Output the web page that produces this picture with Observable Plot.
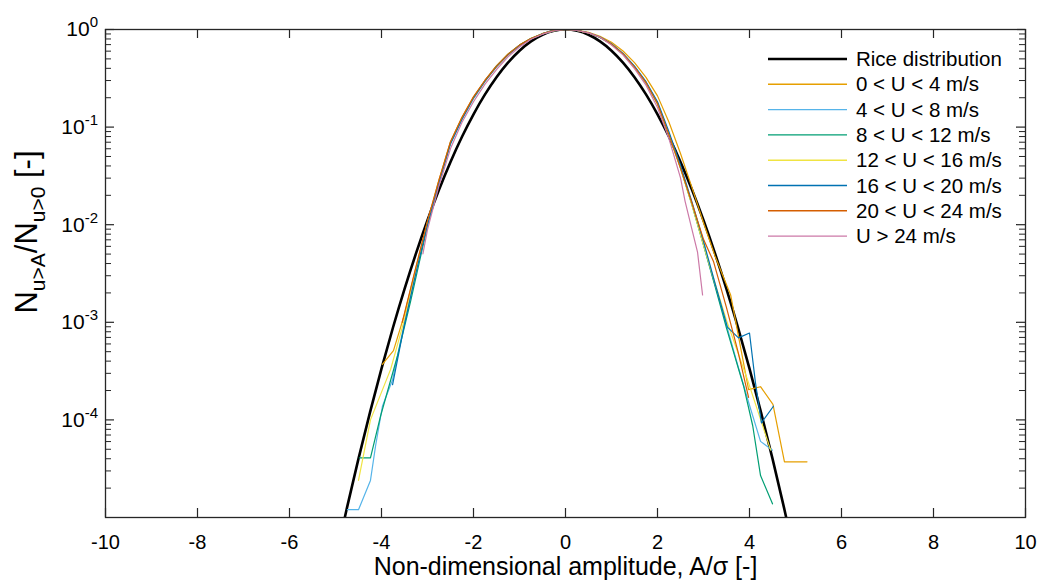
<!DOCTYPE html>
<html><head><meta charset="utf-8">
<script src="https://cdn.jsdelivr.net/npm/d3@7"></script>
<script src="https://cdn.jsdelivr.net/npm/@observablehq/plot@0.6"></script>
<style>body{margin:0;background:#fff;} svg{display:block}</style>
</head><body><div id="chart"></div>
<script>
const seriesNames = ["0 < U < 4 m/s","4 < U < 8 m/s","8 < U < 12 m/s","12 < U < 16 m/s","16 < U < 20 m/s","20 < U < 24 m/s","U > 24 m/s"];
const seriesColors = ["#E69F00","#56B4E9","#009E73","#F0E442","#0072B2","#D55E00","#CC79A7"];
const riceName = "Rice distribution";

// Rice distribution
const riceX = [-5,-4.75,-4.5,-4.25,-4,-3.75,-3.5,-3.25,-3,-2.75,-2.5,-2.25,-2,-1.75,-1.5,-1.25,-1,-0.75,-0.5,-0.25,0,0.25,0.5,0.75,1,1.25,1.5,1.75,2,2.25,2.5,2.75,3,3.25,3.5,3.75,4,4.25,4.5,4.75,5];
const riceY = [3.727e-6,1.262e-5,4.007e-5,1.196e-4,3.355e-4,8.846e-4,2.187e-3,5.082e-3,1.111e-2,2.280e-2,4.394e-2,7.956e-2,0.1353,0.2163,0.3247,0.4578,0.6065,0.7548,0.8825,0.9692,1,0.9692,0.8825,0.7548,0.6065,0.4578,0.3247,0.2163,0.1353,7.956e-2,4.394e-2,2.280e-2,1.111e-2,5.082e-3,2.187e-3,8.846e-4,3.355e-4,1.196e-4,4.007e-5,1.262e-5,3.727e-6];

// measured series: amplitude and log10 of N(u>A)/N(u>0)
const s0X = [-3.98,-3.74,-3.5,-3.25,-3.0,-2.75,-2.5,-2.25,-2.0,-1.75,-1.5,-1.25,-1.0,-0.75,-0.5,-0.25,0,0.25,0.5,0.75,1.0,1.25,1.5,1.75,2.0,2.25,2.5,2.75,3.0,3.25,3.59,3.98,4.24,4.51,4.76,5.25];
const s0Log = [-3.43,-3.29,-2.92,-2.44,-1.97,-1.54,-1.15,-0.90,-0.69,-0.52,-0.37,-0.25,-0.16,-0.09,-0.043,-0.011,0,-0.008,-0.03,-0.07,-0.13,-0.22,-0.34,-0.49,-0.68,-0.95,-1.27,-1.62,-1.98,-2.32,-2.72,-3.69,-3.66,-3.84,-4.43,-4.43];

const s1X = [-4.74,-4.5,-4.24,-4.13,-3.98,-3.76,-3.5,-3.25,-3.0,-2.75,-2.5,-2.25,-2.0,-1.75,-1.5,-1.25,-1.0,-0.75,-0.5,-0.25,0,0.25,0.5,0.75,1.0,1.25,1.5,1.75,2.0,2.25,2.5,2.75,3.0,3.25,3.5,3.75,4.0,4.24,4.5];
const s1Log = [-4.92,-4.92,-4.62,-4.27,-3.86,-3.59,-3.0,-2.47,-1.99,-1.56,-1.17,-0.92,-0.71,-0.53,-0.38,-0.26,-0.165,-0.095,-0.045,-0.012,0,-0.01,-0.035,-0.08,-0.15,-0.25,-0.38,-0.54,-0.75,-1.07,-1.41,-1.79,-2.2,-2.62,-3.03,-3.45,-3.85,-4.22,-4.31];

const s2X = [-4.48,-4.24,-4.02,-3.65,-3.37,-3.0,-2.75,-2.5,-2.25,-2.0,-1.75,-1.5,-1.25,-1.0,-0.75,-0.5,-0.25,0,0.25,0.5,0.75,1.0,1.25,1.5,1.75,2.0,2.25,2.5,2.75,3.0,3.25,3.5,3.87,4.07,4.24,4.5];
const s2Log = [-4.39,-4.39,-3.96,-3.34,-2.79,-2.01,-1.56,-1.16,-0.91,-0.70,-0.525,-0.375,-0.255,-0.16,-0.092,-0.043,-0.011,0,-0.01,-0.036,-0.082,-0.152,-0.255,-0.385,-0.55,-0.76,-1.08,-1.42,-1.80,-2.21,-2.63,-3.06,-3.65,-4.06,-4.57,-4.86];

const s3X = [-4.5,-4.24,-3.8,-3.5,-3.25,-3.0,-2.75,-2.5,-2.25,-2.0,-1.75,-1.5,-1.25,-1.0,-0.75,-0.5,-0.25,0,0.25,0.5,0.75,1.0,1.25,1.5,1.75,2.0,2.25,2.5,2.75,3.0,3.25,3.5,3.95,4.46];
const s3Log = [-4.62,-4.0,-3.48,-2.97,-2.46,-1.98,-1.55,-1.16,-0.91,-0.70,-0.53,-0.38,-0.26,-0.165,-0.095,-0.045,-0.012,0,-0.01,-0.036,-0.08,-0.15,-0.25,-0.385,-0.545,-0.76,-1.08,-1.42,-1.8,-2.21,-2.6,-2.98,-3.58,-4.31];

const s4X = [-3.76,-3.5,-3.25,-3.0,-2.75,-2.5,-2.25,-2.0,-1.75,-1.5,-1.25,-1.0,-0.75,-0.5,-0.25,0,0.25,0.5,0.75,1.0,1.25,1.5,1.75,2.0,2.25,2.5,2.75,3.0,3.25,3.52,3.76,4.0,4.13,4.26,4.52];
const s4Log = [-3.64,-3.02,-2.49,-2.0,-1.57,-1.17,-0.92,-0.70,-0.53,-0.38,-0.26,-0.165,-0.095,-0.045,-0.012,0,-0.01,-0.034,-0.078,-0.145,-0.245,-0.375,-0.535,-0.74,-1.05,-1.39,-1.77,-2.17,-2.6,-3.05,-3.16,-3.11,-3.62,-4.03,-3.86];

const s5X = [-3.55,-3.25,-3.0,-2.75,-2.5,-2.25,-2.0,-1.75,-1.5,-1.25,-1.0,-0.75,-0.5,-0.25,0,0.25,0.5,0.75,1.0,1.25,1.5,1.75,2.0,2.25,2.5,2.75,3.0,3.22,3.5,3.75,3.98];
const s5Log = [-3.0,-2.43,-1.96,-1.54,-1.15,-0.90,-0.69,-0.52,-0.375,-0.255,-0.16,-0.092,-0.043,-0.011,0,-0.01,-0.035,-0.08,-0.15,-0.25,-0.385,-0.545,-0.76,-1.08,-1.42,-1.78,-2.15,-2.38,-2.85,-3.3,-3.77];

const s6X = [-3.1,-3.0,-2.75,-2.5,-2.25,-2.0,-1.75,-1.5,-1.25,-1.0,-0.75,-0.5,-0.25,0,0.25,0.5,0.75,1.0,1.25,1.5,1.75,2.0,2.25,2.5,2.6,2.75,2.87,2.98];
const s6Log = [-2.3,-2.05,-1.6,-1.22,-0.95,-0.74,-0.56,-0.41,-0.28,-0.18,-0.10,-0.048,-0.013,0,-0.01,-0.035,-0.08,-0.16,-0.26,-0.40,-0.57,-0.80,-1.12,-1.52,-1.76,-2.05,-2.28,-2.72];

const xTicks = [-10,-8,-6,-4,-2,0,2,4,6,8,10];
const yTickExps = [0,-1,-2,-3,-4];
const xLabel = "Non-dimensional amplitude, A/σ [-]";

// ---- build tables
const seriesX = [s0X,s1X,s2X,s3X,s4X,s5X,s6X];
const seriesLog = [s0Log,s1Log,s2Log,s3Log,s4Log,s5Log,s6Log];
const measured = [];
seriesX.forEach((xs, i) => xs.forEach((xv, j) => measured.push({series: seriesNames[i], x: xv, y: Math.pow(10, seriesLog[i][j])})));
const rice = riceX.map((xv, j) => ({x: xv, y: riceY[j]}));
const yMajor = yTickExps.map(e => Math.pow(10, e));
const yMinor = [];
for (let e = -5; e < 0; e++) for (let m = 2; m <= 9; m++) yMinor.push(m * Math.pow(10, e));

const W = 1042, H = 581, mL = 105, mR = 17, mT = 29, mB = 64;
const fw = W - mL - mR, fh = H - mT - mB;
const axisColor = "#262626";

const chart = Plot.plot({
  width: W, height: H,
  marginLeft: mL, marginRight: mR, marginTop: mT, marginBottom: mB,
  style: {fontFamily: "'Liberation Sans', Arial, sans-serif", background: "#fff"},
  x: {domain: [-10, 10]},
  y: {type: "log", domain: [1e-5, 1], axis: null},
  color: {domain: seriesNames, range: seriesColors},
  marks: [
    Plot.line(rice, {x: "x", y: "y", stroke: "#000", strokeWidth: 2.6, curve: "natural", clip: true}),
    Plot.line(measured, {x: "x", y: "y", z: "series", stroke: "series", strokeWidth: 1.2, clip: true}),
    Plot.frame({stroke: axisColor, strokeWidth: 1.3}),
    Plot.ruleX(xTicks, {x: d => d, insetTop: fh - 9, stroke: axisColor, strokeWidth: 1.2}),
    Plot.ruleX(xTicks, {x: d => d, insetBottom: fh - 9, stroke: axisColor, strokeWidth: 1.2}),
    Plot.ruleY(yMajor, {y: d => d, insetRight: fw - 9, stroke: axisColor, strokeWidth: 1.2}),
    Plot.ruleY(yMajor, {y: d => d, insetLeft: fw - 9, stroke: axisColor, strokeWidth: 1.2}),
    Plot.ruleY(yMinor, {y: d => d, insetRight: fw - 6, stroke: axisColor, strokeWidth: 1}),
    Plot.ruleY(yMinor, {y: d => d, insetLeft: fw - 6, stroke: axisColor, strokeWidth: 1}),
    Plot.axisX({ticks: xTicks, tickSize: 0, tickPadding: 17, fontSize: 20, label: null, tickFormat: d => String(d).replace("−", "-"), fill: "#000"}),
    Plot.text([xLabel], {frameAnchor: "bottom", dy: 57, fontSize: 25, fill: "#000"})
  ]
});

document.getElementById("chart").appendChild(chart);

const svg = d3.select(chart);
const xs = chart.scale("x"), ys = chart.scale("y");
const font = "'Liberation Sans', Arial, sans-serif";

// y tick labels with superscripts
const yl = svg.append("g").attr("font-family", font).attr("fill", "#000");
yTickExps.forEach(e => {
  const t = yl.append("text")
    .attr("x", xs.apply(-10) - 7)
    .attr("y", ys.apply(Math.pow(10, e)))
    .attr("text-anchor", "end")
    .attr("font-size", 21);
  t.append("tspan").attr("dy", "0.35em").text("10");
  t.append("tspan").attr("font-size", 15).attr("dy", "-0.6em").text(String(e));
});

// y axis title with subscripts
const yt = svg.append("text")
  .attr("transform", `translate(37,232) rotate(-90)`)
  .attr("text-anchor", "middle")
  .attr("font-family", font)
  .attr("font-size", 31)
  .attr("fill", "#000");
yt.append("tspan").text("N");
yt.append("tspan").attr("font-size", 21).attr("dy", 8).text("u>A");
yt.append("tspan").attr("dy", -8).text("/N");
yt.append("tspan").attr("font-size", 21).attr("dy", 8).text("u>0");
yt.append("tspan").attr("dy", -8).text(" [-]");

// legend
const lg = svg.append("g").attr("font-family", font).attr("font-size", 20.5).attr("fill", "#000").attr("text-anchor", "start");
const legendNames = [riceName].concat(seriesNames);
const legendColors = ["#000"].concat(seriesColors);
legendNames.forEach((n, i) => {
  const yy = 59 + i * 25.3;
  lg.append("line").attr("x1", 768).attr("x2", 847).attr("y1", yy).attr("y2", yy)
    .attr("stroke", legendColors[i]).attr("stroke-width", i === 0 ? 2.6 : 1.4);
  lg.append("text").attr("x", 856).attr("y", yy).attr("dy", "0.35em").attr("text-anchor", "start").text(n);
});
</script>
</body></html>
